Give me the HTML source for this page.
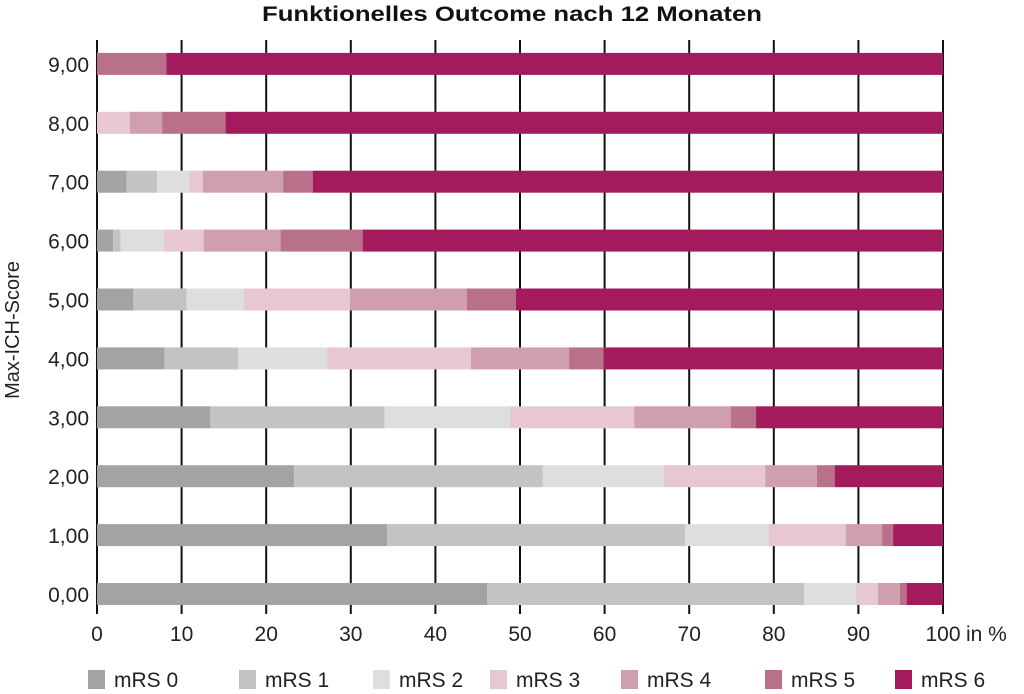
<!DOCTYPE html>
<html><head><meta charset="utf-8"><style>
body{margin:0;background:#fff;width:1024px;height:689px;overflow:hidden;font-family:"Liberation Sans",sans-serif}
</style></head><body>
<svg width="1024" height="689" font-family="Liberation Sans, sans-serif">
<text x="262" y="21" textLength="500" lengthAdjust="spacingAndGlyphs" font-size="21" font-weight="bold" fill="#111">Funktionelles Outcome nach 12 Monaten</text>
<text transform="translate(19,330) rotate(-90)" text-anchor="middle" font-size="20" fill="#222">Max-ICH-Score</text>
<g id="grid"></g><g id="bars"></g><g id="ticks"></g><g id="legend"></g>
</svg>
<script>
const categories=["0,00","1,00","2,00","3,00","4,00","5,00","6,00","7,00","8,00","9,00"];
const seriesNames=["mRS 0","mRS 1","mRS 2","mRS 3","mRS 4","mRS 5","mRS 6"];
const mrs0=[46.1,34.3,23.3,13.4,8.0,4.3,1.9,3.5,0,0];
const mrs1=[37.5,35.2,29.4,20.6,8.7,6.3,0.9,3.6,0,0];
const mrs2=[6.1,9.9,14.3,14.8,10.5,6.7,5.1,3.8,0,0];
const mrs3=[2.6,9.1,12.0,14.7,17.0,12.6,4.7,1.6,3.9,0];
const mrs4=[2.6,4.3,6.1,11.4,11.6,13.8,9.1,9.5,3.8,0];
const mrs5=[0.8,1.3,2.1,3.0,4.1,5.8,9.7,3.5,7.5,8.2];
const mrs6=[4.3,5.9,12.8,22.1,40.1,50.5,68.6,74.5,84.8,91.8];
const xTicks=[0,10,20,30,40,50,60,70,80,90,100];
const series=[mrs0,mrs1,mrs2,mrs3,mrs4,mrs5,mrs6];
const colors=["#a3a3a3","#c3c3c3","#dedede","#e6c7d2","#cf9fae","#b9708a","#a31b5c"];
const NS="http://www.w3.org/2000/svg";
const x0=97,x1=943,yTop=40,yBot=614;
const xs=v=>x0+(x1-x0)*v/100;
const ys=i=>594-i*58.9;
function mk(t,a,p){const e=document.createElementNS(NS,t);for(const k in a)e.setAttribute(k,a[k]);p.appendChild(e);return e;}
const grid=document.getElementById('grid'),bars=document.getElementById('bars'),ticks=document.getElementById('ticks'),legend=document.getElementById('legend');
xTicks.forEach(t=>{
 const l=mk('line',{x1:xs(t),x2:xs(t),y1:yTop,y2:yBot,stroke:'#111','stroke-width':2},grid);
 
 
 const tx=mk('text',{x:xs(t),y:641,'text-anchor':'middle','font-size':21,fill:'#222'},ticks);
 tx.textContent=t;
 
 
});
const unit=mk('text',{x:966,y:641,'font-size':21,fill:'#222'},ticks);unit.textContent="in %";


categories.forEach((c,i)=>{
 const y=ys(i);
 const tx=mk('text',{x:89,y:y+8,'text-anchor':'end','font-size':21,fill:'#222'},ticks);
 tx.textContent=c;
 
 
 let acc=0;
 series.forEach((s,j)=>{
  const v=s[i];if(v<=0)return;
  const r=mk('rect',{x:xs(acc),y:y-11,width:xs(acc+v)-xs(acc),height:22,fill:colors[j]},bars);
  
  
  acc+=v;
 });
});
const lx=[88,239,373,490,621,765,895];
seriesNames.forEach((n,j)=>{
 const r=mk('rect',{x:lx[j],y:670,width:17,height:19,fill:colors[j]},legend);
 
 
 const t=mk('text',{x:lx[j]+26,y:687,'font-size':21,fill:'#222'},legend);t.textContent=n;
 
 
});
</script>
</body></html>
